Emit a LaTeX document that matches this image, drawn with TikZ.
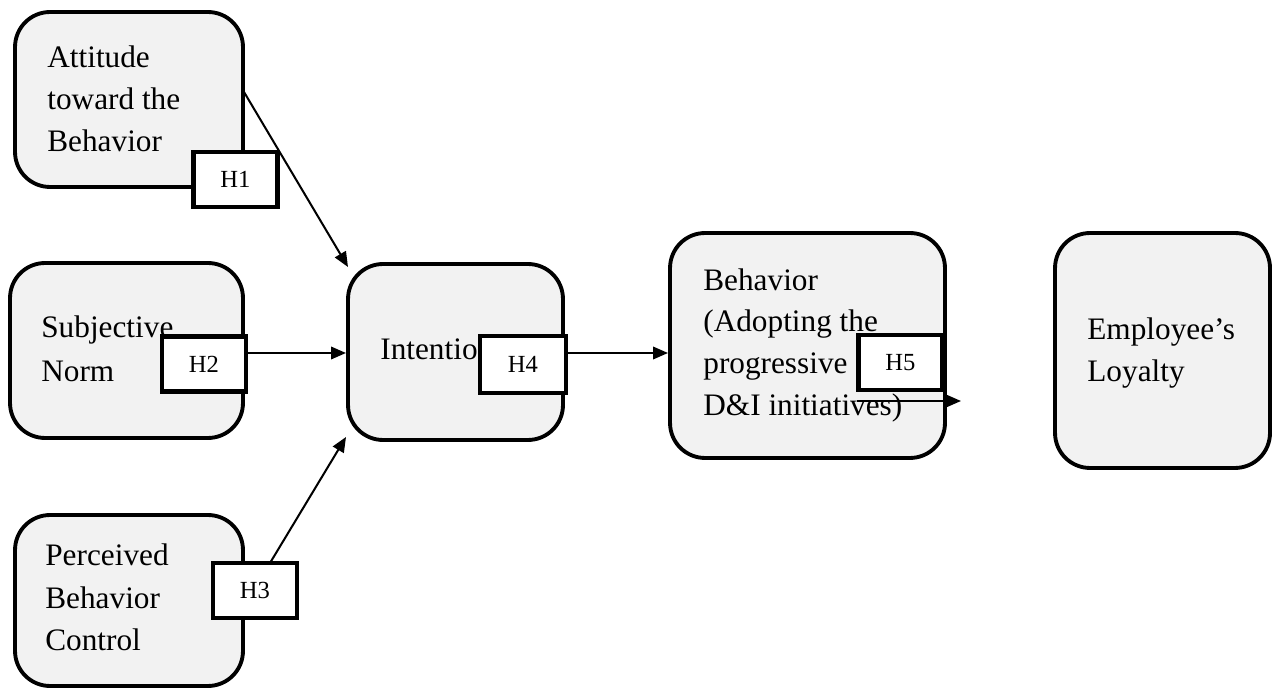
\documentclass[tikz,border=0pt]{standalone}
\usepackage{fontspec}
\setmainfont{Liberation Serif}
\usetikzlibrary{arrows.meta}
\definecolor{boxfill}{HTML}{F2F2F2}
\tikzset{
  mainbox/.style={draw=black, line width=2.2pt, fill=boxfill, rounded corners=0.7cm, inner sep=0pt},
  hbox/.style={draw=black, line width=2.8pt, fill=white, inner sep=0pt, minimum width=1.68cm, minimum height=1.1cm, font=\fontsize{14}{16}\selectfont},
  txt/.style={anchor=base west, inner sep=0pt, font=\fontsize{17.8}{21}\selectfont},
  conn/.style={line width=1.15pt, -{Triangle[length=0.3cm, width=0.25cm]}}
}
\begin{document}
\begin{tikzpicture}[x=0.02cm, y=-0.02cm]
\useasboundingbox (0,0) rectangle (1280,688);
% main boxes
\node[mainbox, minimum width=4.56cm, minimum height=3.5cm] (att) at (129,99.5) {};
\node[mainbox, minimum width=4.66cm, minimum height=3.5cm] (sn) at (126.5,350.5) {};
\node[mainbox, minimum width=4.3cm, minimum height=3.52cm] (int) at (455.5,352) {};
\node[mainbox, minimum width=5.5cm, minimum height=4.5cm] (beh) at (807.5,345.5) {};
\node[mainbox, minimum width=4.3cm, minimum height=4.7cm] (loy) at (1162.5,350.5) {};
\node[mainbox, minimum width=4.56cm, minimum height=3.42cm] (pbc) at (129,600.5) {};
% texts
\node[txt] (att1) at (47,68) {Attitude};
\node[txt] (att2) at (47,110) {toward the};
\node[txt] (att3) at (47,152) {Behavior};
\node[txt] (sn1) at (41,338) {Subjective};
\node[txt] (sn2) at (41,382) {Norm};
\node[txt] (int1) at (380,360) {Intention};
\node[txt] (beh1) at (703,291) {Behavior};
\node[txt] (beh2) at (703,332) {(Adopting the};
\node[txt] (beh3) at (703,374) {progressive};
\node[txt] (beh4) at (703,416) {D\&I initiatives)};
\node[txt] (loy1) at (1087,340) {Employee’s};
\node[txt] (loy2) at (1087,382) {Loyalty};
\node[txt] (pbc1) at (45,565) {Perceived};
\node[txt] (pbc2) at (45,608) {Behavior};
\node[txt] (pbc3) at (45,650) {Control};
% hypothesis boxes
\node[hbox] (h1) at (235.5,179.5) {H1};
\node[hbox] (h2) at (204,364) {H2};
\node[hbox] (h3) at (255,590.5) {H3};
\node[hbox, minimum width=1.72cm, minimum height=1.14cm] (h4) at (523,364.5) {H4};
\node[hbox] (h5) at (900.5,362.5) {H5};
% connector end points
\coordinate (a1s) at (244,92);
\coordinate (a1e) at (348,267);
\coordinate (a2s) at (246,353);
\coordinate (a2e) at (346,353);
\coordinate (a3s) at (270,563);
\coordinate (a3e) at (346,437);
\coordinate (a4s) at (566,353);
\coordinate (a4e) at (668,353);
\coordinate (a5s) at (857,401);
\coordinate (a5e) at (961,401);
% connectors
\draw[conn] (a1s) -- (a1e);
\draw[conn] (a2s) -- (a2e);
\draw[conn] (a3s) -- (a3e);
\draw[conn] (a4s) -- (a4e);
\draw[conn] (a5s) -- (a5e);
\end{tikzpicture}
\end{document}
